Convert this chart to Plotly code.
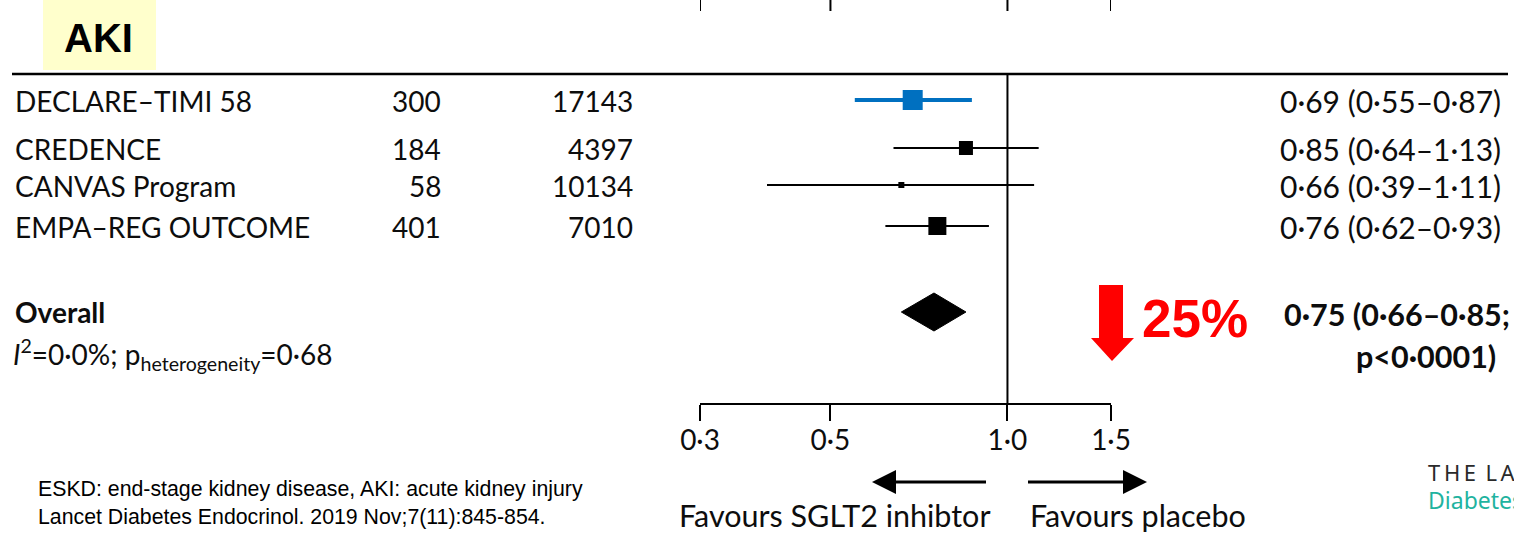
import plotly.graph_objects as go

# Study-level results for acute kidney injury
studies = ["DECLARE–TIMI 58", "CREDENCE", "CANVAS Program", "EMPA–REG OUTCOME"]
events = [300, 184, 58, 401]
participants = [17143, 4397, 10134, 7010]
hr = [0.69, 0.85, 0.66, 0.76]
ci_low = [0.55, 0.64, 0.39, 0.62]
ci_high = [0.87, 1.13, 1.11, 0.93]

overall_hr = 0.75
overall_low = 0.66
overall_high = 0.85
i_squared = "0·0%"
p_het = "0·68"
p_overall = "p<0·0001"
reduction = "25%"

tick_vals = [0.3, 0.5, 1.0, 1.5]
tick_text = ["0·3", "0·5", "1·0", "1·5"]

# Layout constants (pixel rows on a 1514 x 535 canvas)
W, H = 1514, 535
AXIS_Y = 403
row_y = [100, 148, 185, 226]
overall_y = 312
het_y = 354
marker_sizes = [20, 14, 6, 18]
marker_colors = ["#0070C0", "black", "black", "black"]
line_widths = [4, 2, 2, 2]

FONT = "Lato"
BLACK = "#0d0d0d"
ARIAL = "Liberation Sans, Arial"


def fx(p):
    return p / W


def fy(p):
    return 1 - p / H


def dot(v):
    return f"{v:.2f}".replace(".", "·")


fig = go.Figure()

# Confidence intervals and point estimates
for i in range(len(studies)):
    fig.add_trace(go.Scatter(
        x=[ci_low[i], ci_high[i]], y=[row_y[i], row_y[i]], mode="lines",
        line=dict(color=marker_colors[i], width=line_widths[i]),
        hoverinfo="skip", showlegend=False))
fig.add_trace(go.Scatter(
    x=hr, y=row_y, mode="markers",
    marker=dict(symbol="square", size=marker_sizes, color=marker_colors,
                opacity=1, line=dict(width=0)),
    showlegend=False))

# Pooled estimate diamond
fig.add_trace(go.Scatter(
    x=[overall_low, overall_hr, overall_high, overall_hr, overall_low],
    y=[overall_y, overall_y - 19, overall_y, overall_y + 19, overall_y],
    mode="lines", fill="toself", fillcolor="black",
    line=dict(color="black", width=1), showlegend=False))

# Line of no effect
fig.add_trace(go.Scatter(
    x=[1, 1], y=[75, AXIS_Y], mode="lines",
    line=dict(color="black", width=2), showlegend=False))

# Tick stubs of the panel above
tx, ty = [], []
for v in tick_vals:
    tx += [v, v, None]
    ty += [0, 11, None]
fig.add_trace(go.Scatter(x=tx, y=ty, mode="lines",
                         line=dict(color="black", width=2), showlegend=False))

ann = []


def text(x, y, s, size=28, anchor="left", yref="y", bold=False, color=BLACK,
         family=FONT):
    if bold:
        s = f"<b>{s}</b>"
    ann.append(dict(x=fx(x), y=y if yref == "y" else fy(y), xref="paper",
                    yref="y" if yref == "y" else "paper", text=s,
                    showarrow=False, xanchor=anchor, yanchor="middle",
                    font=dict(family=family, size=size, color=color)))


for i, name in enumerate(studies):
    text(13, row_y[i] + 1, name)
    text(443, row_y[i] + 1, f"{events[i]}", anchor="right")
    text(635, row_y[i] + 1, f"{participants[i]}", anchor="right")
    text(1503, row_y[i] + 1,
         f"{dot(hr[i])} ({dot(ci_low[i])}–{dot(ci_high[i])})", size=30,
         anchor="right")

text(13, overall_y, "Overall", bold=True)
text(11, het_y,
     f"<i>I</i><sup>2</sup>={i_squared}; p<sub>heterogeneity</sub>={p_het}")
text(1512, overall_y + 2,
     f"{dot(overall_hr)} ({dot(overall_low)}–{dot(overall_high)};", size=30.5,
     anchor="right", bold=True)
text(1498, het_y + 2, f"{p_overall})", size=30.5, anchor="right", bold=True)

# Percent reduction callout
text(1140, 318, reduction, size=53, bold=True, color="#FF0000", family=ARIAL)

# Panel title
text(98, 38, "AKI", size=40, anchor="center", bold=True, color="black",
     family=ARIAL, yref="paper")

# Direction labels
text(835, 515, "Favours SGLT2 inhibtor", size=30.5, anchor="center",
     yref="paper")
text(1138, 515, "Favours placebo", size=30.5, anchor="center", yref="paper")

# Footnotes
text(36, 489, "ESKD: end-stage kidney disease, AKI: acute kidney injury",
     size=21.3, color="black", family=ARIAL, yref="paper")
text(36, 517, "Lancet Diabetes Endocrinol. 2019 Nov;7(11):845-854.",
     size=21.3, color="black", family=ARIAL, yref="paper")

# Journal mark
text(1426, 472, "T\u2009H\u2009E\u2009 L\u2009A\u2009N\u2009C\u2009E\u2009T",
     size=22, color="#2a2a2a", yref="paper", family="Noto Sans")
text(1426, 500, "Diabetes &amp; Endocrinology", size=23, color="#1FB3A0",
     yref="paper", family="Noto Sans")

shapes = [
    # Title highlight
    dict(type="rect", xref="paper", yref="paper", x0=fx(43), x1=fx(156),
         y0=fy(70), y1=fy(0), fillcolor="#FFFFCC", line=dict(width=0),
         layer="below"),
    # Header rule
    dict(type="line", xref="paper", yref="paper", x0=fx(12), x1=fx(1508),
         y0=fy(74), y1=fy(74), line=dict(color="black", width=2.5)),
    # Red down arrow
    dict(type="path", xref="paper", yref="paper",
         path=(f"M {fx(1099)} {fy(285)} L {fx(1123)} {fy(285)} "
               f"L {fx(1123)} {fy(338)} L {fx(1134)} {fy(338)} "
               f"L {fx(1112)} {fy(361)} L {fx(1091)} {fy(338)} "
               f"L {fx(1099)} {fy(338)} Z"),
         fillcolor="#FF0000", line=dict(width=0)),
    # Direction arrows
    dict(type="line", xref="paper", yref="paper", x0=fx(892), x1=fx(986),
         y0=fy(482), y1=fy(482), line=dict(color="black", width=3)),
    dict(type="path", xref="paper", yref="paper",
         path=(f"M {fx(872)} {fy(482)} L {fx(896)} {fy(470)} "
               f"L {fx(896)} {fy(494)} Z"),
         fillcolor="black", line=dict(width=0)),
    dict(type="line", xref="paper", yref="paper", x0=fx(1028), x1=fx(1126),
         y0=fy(482), y1=fy(482), line=dict(color="black", width=3)),
    dict(type="path", xref="paper", yref="paper",
         path=(f"M {fx(1147)} {fy(482)} L {fx(1123)} {fy(470)} "
               f"L {fx(1123)} {fy(494)} Z"),
         fillcolor="black", line=dict(width=0)),
]

fig.update_layout(
    width=W, height=H,
    margin=dict(l=0, r=0, t=0, b=0, autoexpand=False),
    paper_bgcolor="white", plot_bgcolor="rgba(0,0,0,0)",
    showlegend=False, annotations=ann, shapes=shapes,
    xaxis=dict(type="log", domain=[fx(700), fx(1111)],
               range=[-0.5228787, 0.1760913], tickvals=tick_vals,
               ticktext=tick_text, ticks="outside", ticklen=16, tickwidth=2,
               tickcolor="black", showline=True, linecolor="black",
               linewidth=2, showgrid=False, zeroline=False,
               ticklabelstandoff=-5, automargin=False,
               tickfont=dict(family=FONT, size=28, color=BLACK)),
    yaxis=dict(domain=[fy(AXIS_Y), 1], range=[AXIS_Y, 0], visible=False,
               showgrid=False, zeroline=False, automargin=False),
)

fig.write_html("out.html")
